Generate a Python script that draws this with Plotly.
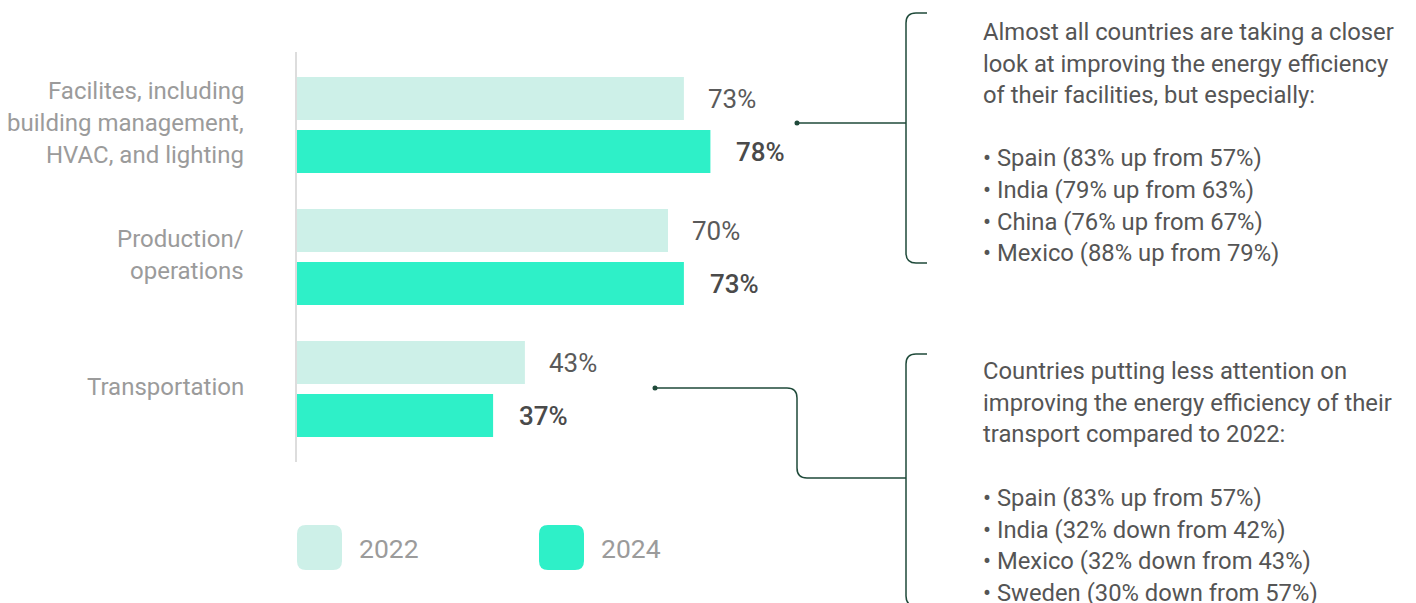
import plotly.graph_objects as go

categories = ["Facilites, including<br>building management,<br>HVAC, and lighting",
              "Production/<br>operations",
              "Transportation"]
values_2022 = [73, 70, 43]
values_2024 = [78, 73, 37]
series_names = ["2022", "2024"]

note_1 = ["Almost all countries are taking a closer",
          "look at improving the energy efficiency",
          "of their facilities, but especially:",
          "",
          "• Spain (83% up from 57%)",
          "• India (79% up from 63%)",
          "• China (76% up from 67%)",
          "• Mexico (88% up from 79%)"]
note_2 = ["Countries putting less attention on",
          "improving the energy efficiency of their",
          "transport compared to 2022:",
          "",
          "• Spain (83% up from 57%)",
          "• India (32% down from 42%)",
          "• Mexico (32% down from 43%)",
          "• Sweden (30% down from 57%)"]

W, H = 1416, 603
L, R, T, B = 297, 827, 52, 462
PW, PH = R - L, B - T
C22, C24 = "#cdf0e8", "#2ef0c8"
LINE = "#1f4a3a"
FONT = "Roboto, Arial, sans-serif"


def px(x):
    return (x - L) / PW


def py(y):
    return (B - y) / PH


fig = go.Figure()
fig.add_trace(go.Bar(y=categories, x=values_2022, orientation="h", name=series_names[0],
                     marker=dict(color=C22, line=dict(width=0)), hoverinfo="skip"))
fig.add_trace(go.Bar(y=categories, x=values_2024, orientation="h", name=series_names[1],
                     marker=dict(color=C24, line=dict(width=0)), hoverinfo="skip"))

ann = []
for i, c in enumerate(categories):
    ann.append(dict(x=values_2022[i], y=c, xref="x", yref="y", text=f"{values_2022[i]}%",
                    xanchor="left", yanchor="middle", xshift=22, yshift=26.5, showarrow=False,
                    font=dict(family=FONT, size=26, color="#5a5a5a")))
    ann.append(dict(x=values_2024[i], y=c, xref="x", yref="y", text=f"{values_2024[i]}%",
                    xanchor="left", yanchor="middle", xshift=24, yshift=-26.5, showarrow=False,
                    font=dict(family=FONT, size=26, color="#4a4a4a", weight=500)))
    lines = c.split("<br>")
    n = len(lines)
    for k, ln in enumerate(lines):
        ann.append(dict(x=px(246), y=c, xref="paper", yref="y", text=ln, xanchor="right",
                        yanchor="middle", yshift=-(k - (n - 1) / 2) * 32 + 2, showarrow=False,
                        font=dict(family=FONT, size=24, color="#9b9b9b")))

for k, ln in enumerate(note_1):
    if ln:
        ann.append(dict(x=px(981), y=py(32 + k * 31.6), xref="paper", yref="paper", text=ln,
                        xanchor="left", yanchor="middle", showarrow=False,
                        font=dict(family=FONT, size=23.8, color="#555555")))
for k, ln in enumerate(note_2):
    if ln:
        ann.append(dict(x=px(981), y=py(371 + k * 31.7), xref="paper", yref="paper", text=ln,
                        xanchor="left", yanchor="middle", showarrow=False,
                        font=dict(family=FONT, size=23.8, color="#555555")))

for name, x0 in zip(series_names, [357, 599]):
    ann.append(dict(x=px(x0), y=py(548), xref="paper", yref="paper", text=name,
                    xanchor="left", yanchor="middle", showarrow=False,
                    font=dict(family=FONT, size=26.5, color="#9b9b9b")))


def path(pts):
    out = []
    for cmd, *xy in pts:
        coords = []
        for j in range(0, len(xy), 2):
            coords.append(f"{px(xy[j]):.5f},{py(xy[j+1]):.5f}")
        out.append(cmd + " " + " ".join(coords))
    return " ".join(out)


def rrect(x0, y0, x1, y1, r):
    return path([("M", x0 + r, y0), ("L", x1 - r, y0), ("Q", x1, y0, x1, y0 + r),
                 ("L", x1, y1 - r), ("Q", x1, y1, x1 - r, y1), ("L", x0 + r, y1),
                 ("Q", x0, y1, x0, y1 - r), ("L", x0, y0 + r), ("Q", x0, y0, x0 + r, y0)]) + " Z"


shapes = []
for col, x0 in zip([C22, C24], [297, 539]):
    shapes.append(dict(type="path", xref="paper", yref="paper", path=rrect(x0, 525, x0 + 45, 570, 9),
                       fillcolor=col, line=dict(width=0)))

lw = 1.5
shapes.append(dict(type="path", xref="paper", yref="paper", line=dict(color=LINE, width=lw),
                   path=path([("M", 797, 123), ("L", 906, 123)])))
shapes.append(dict(type="path", xref="paper", yref="paper", line=dict(color=LINE, width=lw),
                   path=path([("M", 927, 13), ("L", 916, 13), ("Q", 906, 13, 906, 23), ("L", 906, 253),
                              ("Q", 906, 263, 916, 263), ("L", 927, 263)])))
shapes.append(dict(type="path", xref="paper", yref="paper", line=dict(color=LINE, width=lw),
                   path=path([("M", 655, 388), ("L", 787, 388), ("Q", 797, 388, 797, 398), ("L", 797, 468),
                              ("Q", 797, 478, 807, 478), ("L", 906, 478)])))
shapes.append(dict(type="path", xref="paper", yref="paper", line=dict(color=LINE, width=lw),
                   path=path([("M", 927, 354), ("L", 916, 354), ("Q", 906, 354, 906, 364), ("L", 906, 596),
                              ("Q", 906, 606, 916, 606), ("L", 927, 606)])))
for cx, cy in [(797, 123), (655, 388)]:
    shapes.append(dict(type="circle", xref="paper", yref="paper", x0=px(cx - 2.5), x1=px(cx + 2.5),
                       y0=py(cy + 2.5), y1=py(cy - 2.5), fillcolor=LINE, line=dict(width=0)))

fig.update_layout(
    width=W, height=H, barmode="group", bargap=0.197, bargroupgap=0.19,
    margin=dict(l=L, r=W - R, t=T, b=H - B, pad=0),
    paper_bgcolor="white", plot_bgcolor="white", showlegend=False,
    xaxis=dict(range=[0, 100], visible=False, fixedrange=True),
    yaxis=dict(range=[2.553, -0.553], showticklabels=False, showgrid=False, zeroline=False,
               showline=True, linecolor="#dddddd", linewidth=2, ticks=""),
    annotations=ann, shapes=shapes, font=dict(family=FONT),
)
fig.write_html("out.html", config={"displayModeBar": False},
               post_script="document.body.style.margin='0';document.body.style.overflow='hidden';")
